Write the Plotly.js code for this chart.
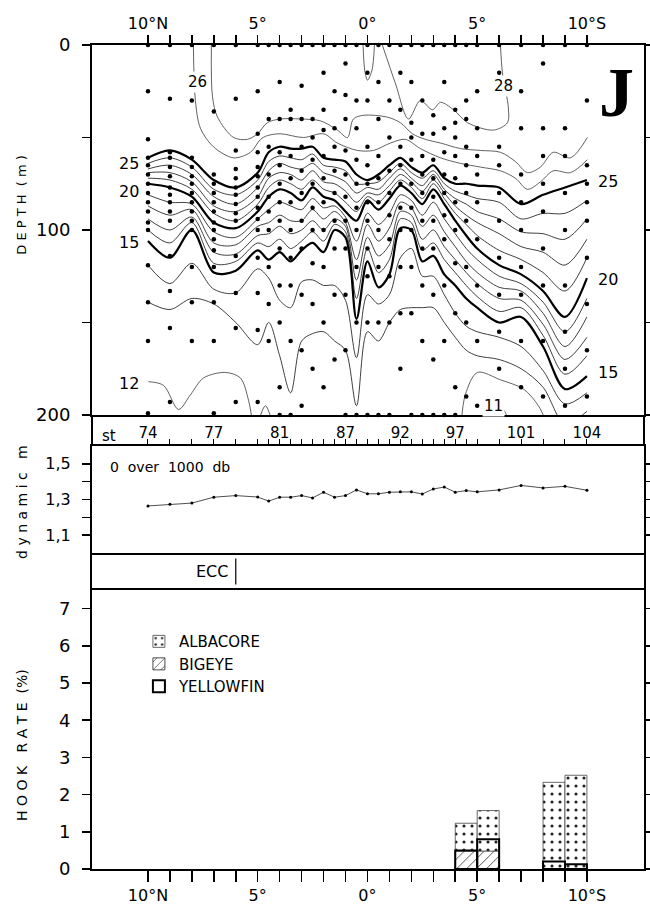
<!DOCTYPE html>
<html><head><meta charset="utf-8">
<script src="https://cdn.plot.ly/plotly-3.0.1.min.js"></script>
<style>html,body{margin:0;padding:0;background:#fff;}#chart{width:650px;height:909px;}</style>
</head><body><div id="chart"></div>
<script>
// ---------- DATA ----------
const stNum = [74,75,76,77,78,79,80,81,82,83,84,85,86,87,88,89,90,91,92,93,94,95,96,97,98,99,100,101,102,103,104];
const stLat = [10,9,8,7,6,5,4.5,4,3.5,3,2.5,2,1.5,1,0.5,0,-0.5,-1,-1.5,-2,-2.5,-3,-3.5,-4,-4.5,-5,-6,-7,-8,-9,-10];
const stLabel = ['74','','','77','','','','81','','','','','','87','','','','','92','','','','','97','','','','101','','','104'];
const latTicks = [10,9,8,7,6,5,4,3,2,1,0,-1,-2,-3,-4,-5,-6,-7,-8,-9,-10];
const latTickText = ['10°N','','','','','5°','','','','','0°','','','','','5°','','','','','10°S'];

// isotherm depths (m) at each station
const iso25 = [61,57,62,73,77,69,58,55,56,56,55,61,62,63,70,73,70,65,61,66,69,65,72,75,75,76,77,86,81,77,73];
const iso24 = [64,61,66,78,81,73,63,60,61,62,59,65,66,68,75,75,74,69,64,69,72,68,75,79,81,83,85,94,91,91,84];
const iso23 = [67,65,70,82,86,77,68,64,66,67,64,69,71,74,80,77,78,72,67,72,76,70,78,83,86,90,94,101,102,105,94];
const iso22 = [69,69,74,87,90,82,72,69,70,73,68,74,75,79,85,80,81,76,70,74,79,73,80,87,92,96,102,109,112,119,105];
const iso21 = [72,73,78,91,95,86,77,73,75,78,73,78,80,85,90,82,85,79,73,77,83,75,83,91,97,103,111,116,123,133,115];
const iso20 = [75,77,82,96,99,90,82,78,80,84,77,82,84,90,95,84,89,83,76,80,86,78,86,95,103,110,119,124,133,147,126];
const iso19 = [81,85,86,101,104,94,89,85,87,89,83,88,87,93,106,91,97,91,81,84,92,85,94,102,110,116,125,129,139,155,137];
const iso18 = [87,92,89,107,108,98,96,92,95,95,89,94,90,96,116,97,106,99,85,88,98,92,101,109,117,123,131,133,145,163,147];
const iso17 = [94,100,93,112,113,103,102,98,102,100,95,100,94,98,127,104,114,108,90,92,105,100,109,116,123,129,137,138,151,170,158];
const iso16 = [100,107,96,118,117,107,109,105,110,106,101,106,97,101,137,110,123,116,94,96,111,107,116,123,130,136,144,142,157,178,168];
const iso15 = [106,115,100,123,122,111,116,112,117,111,107,112,100,104,148,117,131,124,99,100,117,114,124,130,137,142,150,147,163,186,179];
const iso14 = [119,129,118,132,134,121,126,138,142,128,127,130,130,138,169,135,140,135,115,110,125,125,135,145,152,155,158,163,176,194,188];
const iso13 = [139,143,137,140,150,162,150,168,188,160,156,155,160,165,195,155,160,150,143,142,142,142,150,158,165,168,170,175,185,205,198];

// isotherms that start/end off-station: latitude & depth pairs
const iso28aLat = [0.2,0.12,0,-0.2,-0.32];
const iso28aDepth = [0,14,19,14,0];
const iso28bLat = [-0.68,-1.28,-1.87,-2.41,-2.96,-3.33,-3.92,-4.56,-5.74,-6.38,-6.42,-6.15,-6.06];
const iso28bDepth = [0,21,40,30,35,31,35,42,46,42,34,15,0];
const iso27Lat = [7.11,7.06,6.83,6.10,5.47,5.01,4.56,3.96,3.05,2.14,1.37,0.91,0.64,0.18,-0.91,-1.50,-2.05,-2.64,-3.33,-4.24,-5.15,-6.06,-6.74,-7.29,-7.88,-8.47,-9.25,-10.02];
const iso27Depth = [0,28,39,50,51,48,42,40,40,41,46,50,40,38,39,42,48,51,53,56,57,58,63,69,66,58,61,50];
const iso26Lat = [7.93,7.84,7.61,7.02,6.10,5.33,4.87,4.56,3.96,2.92,2.00,1.37,0.46,-0.27,-1.05,-1.73,-2.41,-3.33,-4.24,-5.15,-6.06,-6.74,-7.29,-7.88,-8.47,-9.25,-10.02];
const iso26Depth = [0,30,45,55,61,58,51,49,48,50,48,53,57,57,53,51,56,61,64,66,68,72,78,74,68,69,62];
const iso12aLat = [9.98,9.29,8.61,8.06,7.47,6.47,5.79,5.42,5.24];
const iso12aDepth = [182,184,197,189,180,177,180,192,204];
const iso12bLat = [4.97,4.65,4.33];
const iso12bDepth = [204,195,204];
const iso12cLat = [-4.28,-4.46,-5.01,-6.06,-7.11,-7.79,-8.15];
const iso12cDepth = [204,189,177,181,186,195,204];
const iso11Lat = [-5.15,-5.47,-5.83,-6.2,-6.42];
const iso11Depth = [203,196,194,197,203];

// sampling depths (m) per station
const dotDepths = [
 [0,25,51,61,65,70,75,80,85,90,96,100,119,139,160,199],
 [0,29,58,61,66,71,77,81,85,90,95,114,133,153,193],
 [0,30,61,66,71,75,80,85,90,95,100,120,139,160],
 [0,36,70,75,80,85,90,96,100,105,111,120,139,160,199],
 [0,29,57,67,72,77,81,86,91,95,114,134,153,193],
 [0,25,48,58,66,71,77,82,88,94,100,115,134,154,193],
 [0,40,55,70,82,90,100,120,140,160],
 [0,20,40,58,65,75,85,95,110,130,150,185,200],
 [0,35,40,60,72,85,100,115,130,160,200],
 [0,22,40,55,68,80,95,110,135,165,195],
 [0,40,50,62,75,88,100,118,140,175],
 [0,15,35,46,60,72,85,100,120,150,185],
 [0,25,45,55,68,80,95,110,135,170],
 [0,10,27,40,57,70,82,95,110,135,165,200],
 [0,30,45,62,75,88,100,120,150,200],
 [0,15,30,55,65,75,85,95,110,125,150,200],
 [0,20,40,60,72,85,100,120,150,200],
 [0,30,50,68,80,92,105,125,150,200],
 [0,15,35,55,65,75,88,100,120,145,175],
 [0,20,42,50,62,75,88,100,120,145,200],
 [0,30,48,60,70,80,95,110,130,160,200],
 [0,38,48,62,72,82,95,110,135,170,200],
 [0,20,45,58,70,80,92,105,130,160,200],
 [0,35,42,50,60,72,85,100,118,145,185,200],
 [0,30,40,55,65,80,95,120,150,190],
 [0,25,45,60,70,85,105,130,160,195],
 [0,15,25,55,65,80,95,115,135,155,175],
 [0,25,45,70,85,100,120,135,160,185],
 [0,10,45,60,75,90,110,130,160,190],
 [0,45,60,80,100,130,155,175,195],
 [0,30,65,75,85,95,115,140,165,190]
];

// dynamic height, 0 over 1000 db (dynamic m)
const dynHeight = [1.264,1.273,1.280,1.313,1.322,1.314,1.291,1.313,1.313,1.322,1.309,1.341,1.313,1.322,1.354,1.332,1.332,1.341,1.343,1.343,1.331,1.359,1.370,1.341,1.350,1.343,1.354,1.379,1.365,1.374,1.352];

// ECC boundary latitude
const eccLat = [6.0];

// hook rates (%) in 1-degree bins
const binLat = [-4.5,-5.5,-8.5,-9.5];
const albacore = [1.23,1.57,2.33,2.52];
const bigeye = [0.48,0.48,0,0];
const yellowfin = [0.50,0.80,0.20,0.13];

// ---------- TRACES ----------
const F = 'DejaVu Sans, Liberation Sans, sans-serif';
const traces = [];
function stationLine(depths, bold){
  traces.push({type:'scatter',mode:'lines',x:stLat,y:depths,xaxis:'x',yaxis:'y',
    line:{shape:'spline',smoothing:0.9,width:bold?2.2:0.9,color:bold?'#000':'#2a2a2a'},
    hoverinfo:'skip',showlegend:false});
}
function freeLine(lat, depth){
  traces.push({type:'scatter',mode:'lines',x:lat,y:depth,xaxis:'x',yaxis:'y',
    line:{shape:'spline',smoothing:0.9,width:0.8,color:'#3a3a3a'},
    hoverinfo:'skip',showlegend:false});
}
freeLine(iso28aLat, iso28aDepth);
freeLine(iso28bLat, iso28bDepth);
freeLine(iso27Lat, iso27Depth);
freeLine(iso26Lat, iso26Depth);
[[iso25,true],[iso24,false],[iso23,false],[iso22,false],[iso21,false],[iso20,true],
 [iso19,false],[iso18,false],[iso17,false],[iso16,false],[iso15,true],[iso14,false],[iso13,false]]
 .forEach(p=>stationLine(p[0],p[1]));
freeLine(iso12aLat, iso12aDepth);
freeLine(iso12bLat, iso12bDepth);
freeLine(iso12cLat, iso12cDepth);
freeLine(iso11Lat, iso11Depth);

const dx=[], dy=[];
dotDepths.forEach((arr,i)=>arr.forEach(d=>{dx.push(stLat[i]); dy.push(d);}));
traces.push({type:'scatter',mode:'markers',x:dx,y:dy,xaxis:'x',yaxis:'y',cliponaxis:false,
  marker:{size:4.5,color:'#000'},hoverinfo:'skip',showlegend:false});

traces.push({type:'scatter',mode:'lines+markers',x:stLat,y:dynHeight,xaxis:'x2',yaxis:'y2',
  line:{color:'#222',width:0.8},marker:{size:3,color:'#000'},hoverinfo:'skip',showlegend:false});

traces.push({type:'bar',name:'ALBACORE',x:binLat,y:albacore,width:1,xaxis:'x4',yaxis:'y4',
  marker:{color:'#fff',line:{color:'#444',width:0.8},pattern:{shape:'.',fgcolor:'#222',bgcolor:'#fff',size:8,solidity:0.12}}});
traces.push({type:'bar',name:'BIGEYE',x:binLat,y:bigeye,width:1,xaxis:'x4',yaxis:'y4',
  marker:{color:'#fff',line:{color:'#222',width:0.8},pattern:{shape:'/',fgcolor:'#333',bgcolor:'#fff',size:7,solidity:0.12}}});
traces.push({type:'bar',name:'YELLOWFIN',x:binLat,y:yellowfin,width:1,xaxis:'x4',yaxis:'y4',
  marker:{color:'rgba(0,0,0,0)',line:{color:'#000',width:2}}});

// ---------- LAYOUT ----------
const xr = [12.55,-12.6];
const ax = {showgrid:false,zeroline:false,showline:true,linecolor:'#000',linewidth:2,tickcolor:'#000',tickwidth:1.5};
const C = {xanchor:'center',yanchor:'middle',showarrow:false};
const layout = {
  width:650,height:909,margin:{l:92,r:6,t:45,b:40},
  paper_bgcolor:'#fff',plot_bgcolor:'#fff',
  font:{family:F,color:'#000',size:14},
  barmode:'overlay',showlegend:true,
  legend:{x:0.085,y:0.296,xanchor:'left',yanchor:'top',font:{size:15,family:F},bgcolor:'rgba(0,0,0,0)',tracegroupgap:0,itemwidth:30},
  xaxis:Object.assign({},ax,{domain:[0,1],anchor:'y',side:'top',range:xr,tickvals:latTicks,ticktext:latTickText,ticks:'outside',ticklen:8,mirror:true,tickfont:{size:16}}),
  yaxis:Object.assign({},ax,{domain:[0.551,1],anchor:'x',range:[200,0],tickvals:[0,50,100,150,200],ticktext:['0','','100','','200'],ticks:'outside',ticklen:8,mirror:'ticks',tickfont:{size:18},ticklabelstandoff:8}),
  xaxis2:Object.assign({},ax,{domain:[0,1],anchor:'y2',side:'top',range:xr,tickvals:stLat,ticktext:stLabel,ticks:'outside',ticklen:5,tickwidth:1,mirror:true,tickfont:{size:15},ticklabelstandoff:-5}),
  yaxis2:Object.assign({},ax,{domain:[0.3835,0.5133],anchor:'x2',range:[1.0,1.6],tickvals:[1.1,1.2,1.3,1.4,1.5],ticktext:['1,1','','1,3','','1,5'],ticks:'outside',ticklen:8,mirror:'ticks',tickfont:{size:16},ticklabelstandoff:8}),
  xaxis3:Object.assign({},ax,{domain:[0,1],anchor:'y3',range:xr,ticks:'',showticklabels:false,showline:false}),
  yaxis3:Object.assign({},ax,{domain:[0.3386,0.3835],anchor:'x3',range:[0,1],ticks:'',showticklabels:false,mirror:true}),
  xaxis4:Object.assign({},ax,{domain:[0,1],anchor:'y4',side:'bottom',range:xr,tickvals:latTicks,ticktext:latTickText,ticks:'outside',ticklen:11,mirror:true,tickfont:{size:16}}),
  yaxis4:Object.assign({},ax,{domain:[0,0.3386],anchor:'x4',range:[0,7.5],tickvals:[0,1,2,3,4,5,6,7],ticks:'outside',ticklen:8,mirror:'ticks',tickfont:{size:18},ticklabelstandoff:8}),
  shapes:[
    {type:'line',xref:'paper',yref:'paper',x0:0,x1:0,y0:0.5133,y1:0.551,line:{color:'#000',width:2}},
    {type:'line',xref:'paper',yref:'paper',x0:1,x1:1,y0:0.5133,y1:0.551,line:{color:'#000',width:2}},
    {type:'line',xref:'x3',yref:'y3',x0:eccLat[0],x1:eccLat[0],y0:0.15,y1:0.85,line:{color:'#000',width:1.2}}
  ],
  annotations:[
    Object.assign({text:'26',xref:'x',yref:'y',x:7.74,y:20,bgcolor:'#fff',font:{size:15}},C),
    Object.assign({text:'28',xref:'x',yref:'y',x:-6.2,y:22,bgcolor:'#fff',font:{size:15}},C),
    Object.assign({text:'25',xref:'x',yref:'y',x:10.3,y:64,font:{size:16}},C,{xanchor:'right'}),
    Object.assign({text:'20',xref:'x',yref:'y',x:10.3,y:79,font:{size:16}},C,{xanchor:'right'}),
    Object.assign({text:'15',xref:'x',yref:'y',x:10.3,y:107,font:{size:16}},C,{xanchor:'right'}),
    Object.assign({text:'12',xref:'x',yref:'y',x:10.3,y:183,font:{size:16}},C,{xanchor:'right'}),
    Object.assign({text:'25',xref:'x',yref:'y',x:-10.4,y:74,font:{size:16}},C,{xanchor:'left'}),
    Object.assign({text:'20',xref:'x',yref:'y',x:-10.4,y:127,font:{size:16}},C,{xanchor:'left'}),
    Object.assign({text:'15',xref:'x',yref:'y',x:-10.4,y:177,font:{size:16}},C,{xanchor:'left'}),
    Object.assign({text:'11',xref:'x',yref:'y',x:-5.74,y:195,bgcolor:'#fff',font:{size:15}},C),
    Object.assign({text:'<b>J</b>',xref:'paper',yref:'paper',x:0.951,y:0.942,font:{family:'Liberation Serif, DejaVu Serif, serif',size:70,color:'#000'}},C),
    Object.assign({text:'st',xref:'paper',yref:'paper',x:0.03,y:0.5255,font:{size:15}},C),
    Object.assign({text:'0  over  1000  db',xref:'paper',yref:'paper',x:0.029,y:0.488,font:{size:14}},C,{xanchor:'left'}),
    Object.assign({text:'ECC',xref:'x3',yref:'y3',x:eccLat[0],y:0.5,xshift:-6,font:{size:16}},C,{xanchor:'right'}),
    Object.assign({text:'D E P T H  ( m )',xref:'paper',yref:'paper',x:-0.127,y:0.806,textangle:-90,font:{size:13}},C),
    Object.assign({text:'d y n a m i c   m',xref:'paper',yref:'paper',x:-0.127,y:0.4454,textangle:-90,font:{size:14}},C),
    Object.assign({text:'H O O K   R A T E  (%)',xref:'paper',yref:'paper',x:-0.127,y:0.1505,textangle:-90,font:{size:14}},C)
  ]
};
Plotly.newPlot('chart', traces, layout, {staticPlot:true,displayModeBar:false});
</script></body></html>
